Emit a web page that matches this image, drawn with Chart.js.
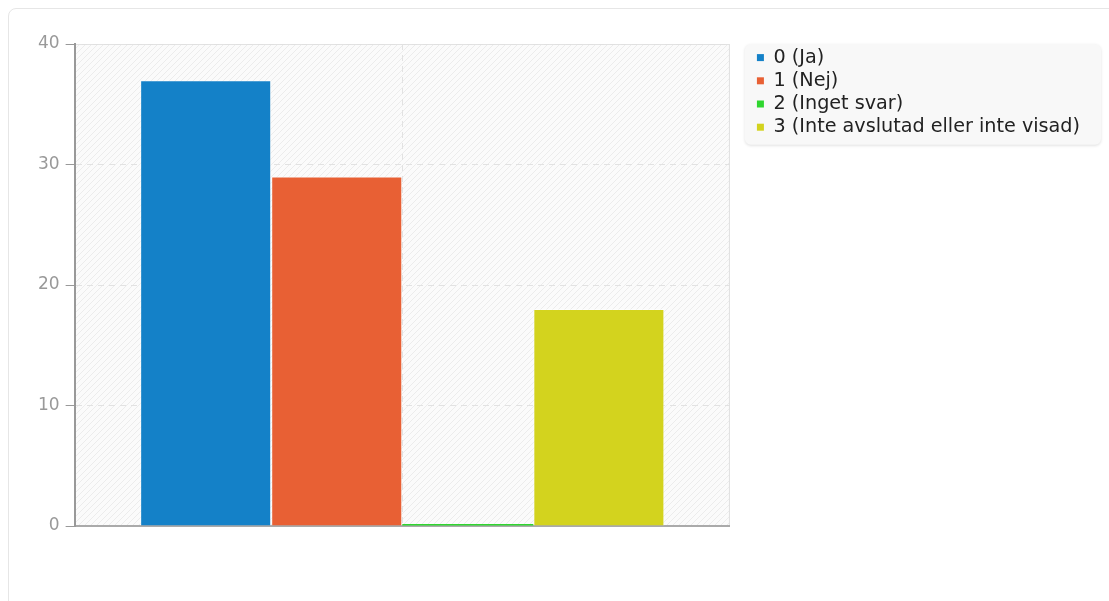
<!DOCTYPE html>
<html>
<head>
<meta charset="utf-8">
<script src="https://cdn.jsdelivr.net/npm/chart.js@4/dist/chart.umd.min.js"></script>
<style>
  body { margin: 0; background: #fff; overflow: hidden; }
  .kort { position: absolute; left: 8px; top: 8px; width: 1130px; height: 640px;
          border: 1px solid #e6e6e6; border-radius: 8px; }
  .ruta { position: absolute; left: 8px; top: 8px; width: 1101px; height: 593px; }
</style>
</head>
<body>
<div class="kort"></div>
<div class="ruta"><canvas id="diagram"></canvas></div>
<script>
var kategorier = ["Svar"];
var serier = ["0 (Ja)", "1 (Nej)", "2 (Inget svar)", "3 (Inte avslutad eller inte visad)"];
var varden = [37, 29, 0, 18];
var farger = ["#1481c8", "#e86034", "#2fd62f", "#d3d31e"];
var yTicks = [0, 10, 20, 30, 40];
var typsnitt = "'DejaVu Sans', Verdana, sans-serif";

// randigt monster for diagramytan
function randmonster() {
    var c = document.createElement("canvas");
    c.width = 6; c.height = 6;
    var x = c.getContext("2d");
    x.fillStyle = "#fbfbfb";
    x.fillRect(0, 0, 6, 6);
    x.strokeStyle = "#ececec";
    x.lineWidth = 1;
    x.beginPath();
    x.moveTo(0, 6); x.lineTo(6, 0);
    x.moveTo(-3, 3); x.lineTo(3, -3);
    x.moveTo(3, 9); x.lineTo(9, 3);
    x.stroke();
    return x.createPattern(c, "repeat");
}

var bakgrund = {
    id: "bakgrund",
    beforeDraw: function(chart) {
        var ctx = chart.ctx, a = chart.chartArea;
        ctx.save();
        ctx.fillStyle = randmonster();
        ctx.fillRect(a.left, a.top, a.right - a.left, a.bottom - a.top);
        ctx.strokeStyle = "#e0e0e0";
        ctx.lineWidth = 1;
        ctx.beginPath();
        ctx.moveTo(a.left, a.top + 0.5); ctx.lineTo(a.right - 0.5, a.top + 0.5);
        ctx.lineTo(a.right - 0.5, a.bottom);
        ctx.stroke();
        // ruta bakom forklaringen
        var l = chart.legend;
        var hb = l.legendHitBoxes;
        var bx = hb[0].left - 12, by = a.top;
        var bw = chart.width - 8 - bx;
        var bh = hb[hb.length - 1].top + hb[hb.length - 1].height + 8 - by;
        ctx.shadowColor = "rgba(0,0,0,0.13)";
        ctx.shadowBlur = 3;
        ctx.shadowOffsetY = 1;
        ctx.fillStyle = "#f8f8f8";
        ctx.beginPath();
        ctx.roundRect(bx, by, bw, bh, 6);
        ctx.fill();
        ctx.restore();
    }
};

var datasets = serier.map(function(namn, i) {
    return {
        label: namn,
        data: [varden[i]],
        backgroundColor: farger[i],
        borderColor: "rgba(255,255,255,0.45)",
        borderWidth: varden[i] === 0 ? 0 : 1,
        minBarLength: 2,
        categoryPercentage: 0.8,
        barPercentage: 1.0
    };
});

new Chart(document.getElementById("diagram"), {
    type: "bar",
    data: { labels: kategorier, datasets: datasets },
    plugins: [bakgrund],
    options: {
        responsive: true,
        maintainAspectRatio: false,
        animation: false,
        layout: { padding: { left: 24, top: 36, right: 19, bottom: 75 } },
        plugins: {
            tooltip: { enabled: false },
            legend: {
                position: "right",
                align: "start",
                maxWidth: 420,
                labels: {
                    font: { family: typsnitt, size: 19.2 },
                    color: "#222",
                    boxWidth: 7,
                    boxHeight: 7,
                    padding: 4,
                    generateLabels: function(chart) {
                        var l = Chart.defaults.plugins.legend.labels.generateLabels(chart);
                        l.forEach(function(o) { o.lineWidth = 0; });
                        return l;
                    }
                }
            }
        },
        scales: {
            x: {
                ticks: { display: false },
                grid: { offset: false, color: "#e2e2e2", drawTicks: false },
                border: { display: true, color: "#aaa", width: 2, dash: [6, 5] }
            },
            y: {
                min: 0, max: 40,
                afterBuildTicks: function(ax) { ax.ticks = yTicks.map(function(v) { return { value: v }; }); },
                ticks: { font: { family: typsnitt, size: 17 }, color: "#999", padding: 6 },
                grid: { color: "#e2e2e2", tickLength: 9, tickColor: "#999", tickBorderDash: [] },
                border: { color: "#999", width: 2, dash: [6, 5] }
            },
            // tom axel som ger luft mellan diagramytan och forklaringen
            luft: {
                position: "right",
                display: true,
                ticks: { display: false },
                grid: { display: false },
                border: { display: false },
                afterFit: function(ax) { ax.width = 23; }
            }
        }
    }
});
</script>
</body>
</html>
